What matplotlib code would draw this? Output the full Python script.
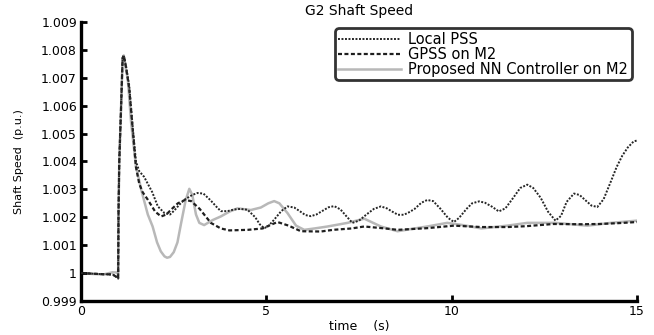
import matplotlib
matplotlib.use("Agg")
import matplotlib.pyplot as plt

plt.rcParams['font.family'] = ['DejaVu Sans']

title = "G2 Shaft Speed"
xlabel = "time    (s)"
ylabel = "Shaft Speed  (p.u.)"
series_names = ["Local PSS", "GPSS on M2", "Proposed NN Controller on M2"]

pre_t = [0, 0.3, 0.6, 0.85, 0.97, 1.0, 1.01, 1.03, 1.08, 1.12, 1.15]
pre_dark = [1.0, 0.99998, 0.99996, 0.99995, 0.99985, 0.9998, 1.0022, 1.0040, 1.0060, 1.0077, 1.0078]
pre_nn = [1.0, 0.99997, 0.99995, 1.00003, 1.00002, 0.99995, 1.0022, 1.0040, 1.0060, 1.0077, 1.0078]

local_t = [1.21, 1.30, 1.39, 1.48, 1.57, 1.70, 1.80, 1.92, 2.07, 2.25, 2.4, 2.52, 2.65, 2.79,
           3.0, 3.14, 3.3, 3.5, 3.65, 3.77, 3.95, 4.13, 4.3, 4.49, 4.7, 4.82, 4.94, 5.05, 5.2,
           5.4, 5.57, 5.75, 5.9, 6.05, 6.2, 6.35, 6.5, 6.68, 6.83, 7.0, 7.15, 7.32, 7.5, 7.7,
           7.9, 8.09, 8.25, 8.4, 8.55, 8.71, 8.85, 9.0, 9.18, 9.34, 9.5, 9.7, 9.9, 10.06, 10.2,
           10.4, 10.55, 10.74, 10.9, 11.1, 11.27, 11.45, 11.65, 11.85, 12.04, 12.2, 12.4, 12.6,
           12.8, 12.95, 13.1, 13.3, 13.45, 13.6, 13.77, 13.93, 14.1, 14.3, 14.45, 14.6, 14.75,
           14.91, 15.0]
local_y = [1.00743, 1.00671, 1.00527, 1.0040, 1.00365, 1.00345, 1.0032, 1.0029, 1.00239,
           1.00215, 1.0021, 1.00225, 1.00245, 1.00263, 1.0028, 1.00287, 1.00285, 1.0026,
           1.00238, 1.00222, 1.00222, 1.00228, 1.0023, 1.00227, 1.0020, 1.00175, 1.00161,
           1.00168, 1.0019, 1.00222, 1.00239, 1.00235, 1.00222, 1.00208, 1.00204, 1.0021,
           1.00222, 1.00236, 1.0024, 1.00228, 1.00205, 1.0018, 1.00188, 1.0021, 1.0023,
           1.00239, 1.00232, 1.0022, 1.00209, 1.00209, 1.00218, 1.0023, 1.00252, 1.00262,
           1.00258, 1.0023, 1.00198, 1.00183, 1.00198, 1.0023, 1.0025, 1.00257, 1.00252,
           1.00237, 1.00221, 1.00232, 1.00268, 1.00305, 1.00317, 1.00305, 1.0027, 1.0022,
           1.00188, 1.00205, 1.00255, 1.00285, 1.0028, 1.00262, 1.00242, 1.00237, 1.00265,
           1.0033, 1.0038, 1.0042, 1.0045, 1.00472, 1.00475]

gpss_t = [1.21, 1.30, 1.39, 1.48, 1.57, 1.66, 1.80, 2.0, 2.16, 2.3, 2.45, 2.61, 2.8, 2.97, 3.2,
          3.5, 3.77, 4.0, 4.5, 4.9, 5.1, 5.3, 5.6, 5.93, 6.47, 6.8, 7.3, 7.64, 8.2, 8.54, 9.34,
          10.06, 10.8, 11.5, 12.0, 12.75, 13.5, 14.0, 14.5, 15.0]
gpss_y = [1.0074, 1.0066, 1.0052, 1.0038, 1.0032, 1.0029, 1.00263, 1.0022, 1.00203, 1.0021,
          1.0023, 1.0025, 1.00262, 1.00258, 1.0023, 1.0018, 1.0016, 1.00153, 1.00155, 1.0016,
          1.00172, 1.00183, 1.0017, 1.0015, 1.00149, 1.00155, 1.0016, 1.00167, 1.0016, 1.00155,
          1.00161, 1.0017, 1.00165, 1.00165, 1.00168, 1.00176, 1.00175, 1.00176, 1.00179,
          1.00183]

nn_t = [1.21, 1.26, 1.35, 1.48, 1.62, 1.80, 1.93, 2.05, 2.15, 2.25, 2.32, 2.4, 2.5, 2.6, 2.70,
        2.82, 2.92, 3.0, 3.1, 3.19, 3.32, 3.55, 3.77, 4.0, 4.22, 4.58, 4.85, 5.05, 5.21, 5.35,
        5.57, 5.8, 6.02, 6.3, 6.65, 7.19, 7.64, 8.09, 8.54, 9.0, 9.34, 9.88, 10.3, 10.8, 11.5,
        12.04, 12.8, 13.66, 14.3, 15.0]
nn_y = [1.0073, 1.00695, 1.00539, 1.00383, 1.0030, 1.0021, 1.00167, 1.0011, 1.00078,
        1.0006, 1.00055, 1.00058, 1.00075, 1.0011, 1.0018, 1.0026, 1.00302, 1.0028, 1.0021,
        1.0018, 1.00172, 1.0019, 1.00203, 1.0022, 1.00232, 1.00226, 1.00235, 1.0025, 1.00258,
        1.0025, 1.00215, 1.0017, 1.00155, 1.0016, 1.00167, 1.0018, 1.00195, 1.00167, 1.0015,
        1.0016, 1.00167, 1.0018, 1.00172, 1.0016, 1.0017, 1.0018, 1.0018, 1.0017, 1.0018,
        1.00188]

xticks = [0, 5, 10, 15]
yticks = [0.999, 1.000, 1.001, 1.002, 1.003, 1.004, 1.005, 1.006, 1.007, 1.008, 1.009]
yticklabels = ["0.999", "1", "1.001", "1.002", "1.003", "1.004", "1.005", "1.006", "1.007",
               "1.008", "1.009"]

fig = plt.figure(figsize=(6.54, 3.35), dpi=100)
ax = fig.add_axes([0.124, 0.1015, 0.850, 0.833])

ax.plot(pre_t + nn_t, pre_nn + nn_y, color='#b8b8b8', lw=1.8, label=series_names[2], zorder=1)
ax.plot(pre_t + local_t, pre_dark + local_y, color='#262626', lw=1.4, ls=(0, (1, 0.8)),
        label=series_names[0], zorder=3)
ax.plot(pre_t + gpss_t, pre_dark + gpss_y, color='#1e1e1e', lw=1.6, ls=(0, (1.8, 1.1)),
        label=series_names[1], zorder=2)

ax.set_xlim(0, 15)
ax.set_ylim(0.999, 1.009)
ax.set_xticks(xticks)
ax.set_xticklabels([str(v) for v in xticks])
ax.set_yticks(yticks)
ax.set_yticklabels(yticklabels)

for s in ['top', 'right']:
    ax.spines[s].set_visible(False)
for s in ['left', 'bottom']:
    ax.spines[s].set_linewidth(2.4)
    ax.spines[s].set_color('black')
ax.tick_params(direction='in', length=4, width=2, labelsize=9, pad=3)

ax.set_title(title, fontsize=10, pad=5)
ax.set_xlabel(xlabel, fontsize=9, labelpad=1)
ax.set_ylabel(ylabel, fontsize=8, labelpad=12)

h, l = ax.get_legend_handles_labels()
order = [1, 2, 0]
leg = ax.legend([h[i] for i in order], [l[i] for i in order], loc='upper right',
                bbox_to_anchor=(0.991, 0.978), fontsize=10.5, handlelength=4.3,
                frameon=True, fancybox=True, borderpad=0.25, labelspacing=0.0,
                handletextpad=0.5, borderaxespad=0.0)
leg.get_frame().set_edgecolor('black')
leg.get_frame().set_linewidth(2.0)
leg.get_frame().set_boxstyle('round,pad=0.0,rounding_size=0.3')

fig.savefig('out.png', dpi=100)
